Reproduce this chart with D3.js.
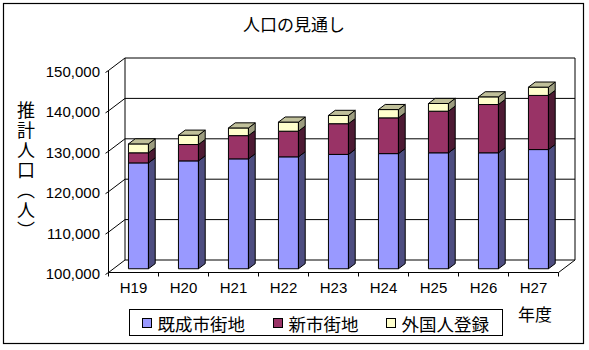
<!DOCTYPE html>
<html>
<head>
<meta charset="utf-8">
<script src="https://cdn.jsdelivr.net/npm/d3@7"></script>
<style>
  body { margin: 0; background: #fff; }
  text { font-family: "Liberation Sans", "Noto Sans CJK JP", sans-serif; fill: #000; }
  .jp { font-family: "Noto Sans CJK JP", sans-serif; }
</style>
</head>
<body>
<svg id="chart" width="589" height="350"></svg>
<script>
// 年度
const years = ["H19", "H20", "H21", "H22", "H23", "H24", "H25", "H26", "H27"];
// 既成市街地・新市街地・外国人登録の人口（人）
const existingArea = [126200, 126700, 127200, 127700, 128300, 128500, 128700, 128700, 129500];
const newArea      = [2500, 4050, 5750, 6350, 7600, 8850, 10300, 11950, 13400];
const foreignReg   = [2200, 2300, 1900, 2250, 2050, 2050, 1900, 1900, 2050];
const seriesNames  = ["既成市街地", "新市街地", "外国人登録"];
const yTicks = [100000, 110000, 120000, 130000, 140000, 150000];

const svg = d3.select("#chart");

// Face colours: front, side, top
const palette = [
  { front: "#9999FF", side: "#4D4D80", top: "#7373BF" },
  { front: "#993366", side: "#4D1A33", top: "#732650" },
  { front: "#FFFFCC", side: "#9C9C7F", top: "#C0C09A" }
];

// Oblique 3D projection: full depth offset of the plot box
const DX = 16.5, DY = -12.5;
const front = { left: 108.5, right: 558.5 };
const y = d3.scaleLinear().domain([100000, 150000]).range([272.5, 70.5]);
const x = d3.scaleBand().domain(years).range([front.left, front.right])
  .paddingInner(0.6).paddingOuter(0.3);
const t0 = 0.3, t1 = 0.71;   // bar front / back depth fractions
const P = (px, py, t) => [px + t * DX, py + t * DY];

// Outer frame
svg.append("rect").attr("x", 3.5).attr("y", 3.5).attr("width", 580).attr("height", 340)
  .attr("fill", "#fff").attr("stroke", "#000").attr("stroke-width", 1.2);

// Title
svg.append("text").attr("class", "jp").attr("x", 294).attr("y", 23)
  .attr("text-anchor", "middle").attr("dominant-baseline", "central")
  .attr("font-size", 17).text("人口の見通し");

// Walls and gridlines
const walls = svg.append("g").attr("stroke", "#000").attr("stroke-width", 1).attr("fill", "none");
yTicks.forEach(v => {
  const [bx, by] = P(front.left, y(v), 1);
  walls.append("line").attr("x1", bx).attr("y1", by).attr("x2", front.right + DX).attr("y2", by);
  walls.append("line").attr("x1", front.left).attr("y1", y(v)).attr("x2", bx).attr("y2", by);
  walls.append("line").attr("x1", front.left - 3).attr("y1", y(v) + 2).attr("x2", front.left).attr("y2", y(v));
});
// back wall verticals
walls.append("line").attr("x1", front.left + DX).attr("y1", y(150000) + DY)
  .attr("x2", front.left + DX).attr("y2", y(100000) + DY);
walls.append("line").attr("x1", front.right + DX).attr("y1", y(150000) + DY)
  .attr("x2", front.right + DX).attr("y2", y(100000) + DY);
// vertical axis (front)
walls.append("line").attr("x1", front.left).attr("y1", y(150000))
  .attr("x2", front.left).attr("y2", y(100000));
// floor
walls.append("line").attr("x1", front.left).attr("y1", y(100000))
  .attr("x2", front.right).attr("y2", y(100000));
walls.append("line").attr("x1", front.right).attr("y1", y(100000))
  .attr("x2", front.right + DX).attr("y2", y(100000) + DY);
// category ticks
d3.range(years.length + 1).forEach(i => {
  const tx = front.left + i * x.step();
  walls.append("line").attr("x1", tx).attr("y1", y(100000)).attr("x2", tx).attr("y2", y(100000) + 4);
});

// Y tick labels
svg.append("g").selectAll("text").data(yTicks).join("text")
  .attr("x", 100).attr("y", d => y(d) + 1)
  .attr("text-anchor", "end").attr("dominant-baseline", "central")
  .attr("font-size", 15).text(d3.format(","));

// Y axis title (vertical)
svg.append("text").attr("class", "jp")
  .attr("x", 26).attr("y", 101)
  .attr("font-size", 18).attr("letter-spacing", 2)
  .style("writing-mode", "vertical-rl")
  .text("推計人口（人）");

// X labels
svg.append("g").selectAll("text").data(years).join("text")
  .attr("x", d => x(d) + x.bandwidth() / 2).attr("y", 287)
  .attr("text-anchor", "middle").attr("dominant-baseline", "central")
  .attr("font-size", 15).text(d => d);
svg.append("text").attr("class", "jp").attr("x", 535).attr("y", 313)
  .attr("text-anchor", "middle").attr("dominant-baseline", "central")
  .attr("font-size", 17).text("年度");

// Stacked 3D bars (axis starts at 100,000, so the lowest segment is cut at the floor)
const rows = years.map((yr, i) => ({ year: yr, s0: existingArea[i], s1: newArea[i], s2: foreignReg[i] }));
const stacked = d3.stack().keys(["s0", "s1", "s2"])(rows);
const floorValue = y.domain()[0];
const bars = svg.append("g").attr("stroke", "#000").attr("stroke-width", 1).attr("stroke-linejoin", "round");
const poly = pts => pts.map(p => p.join(",")).join(" ");

years.forEach((yr, i) => {
  const xl = x(yr), xr = x(yr) + x.bandwidth();
  stacked.forEach((layer, k) => {
    const lo = Math.max(layer[i][0], floorValue), hi = layer[i][1];
    const yl = y(lo), yh = y(hi);
    const c = palette[k];
    // front face
    bars.append("polygon").attr("fill", c.front)
      .attr("points", poly([P(xl, yh, t0), P(xr, yh, t0), P(xr, yl, t0), P(xl, yl, t0)]));
    // side face
    bars.append("polygon").attr("fill", c.side)
      .attr("points", poly([P(xr, yh, t0), P(xr, yh, t1), P(xr, yl, t1), P(xr, yl, t0)]));
    // top face of the stack
    if (k === stacked.length - 1) {
      bars.append("polygon").attr("fill", c.top)
        .attr("points", poly([P(xl, yh, t0), P(xr, yh, t0), P(xr, yh, t1), P(xl, yh, t1)]));
    }
  });
});

// Legend
const lg = svg.append("g");
lg.append("rect").attr("x", 129.5).attr("y", 309.5).attr("width", 373).attr("height", 26)
  .attr("fill", "#fff").attr("stroke", "#000");
const legendX = [142.5, 273.5, 386.5];
seriesNames.forEach((name, k) => {
  lg.append("rect").attr("x", legendX[k]).attr("y", 318.5).attr("width", 9).attr("height", 9)
    .attr("fill", palette[k].front).attr("stroke", "#000");
  lg.append("text").attr("class", "jp").attr("x", legendX[k] + 15).attr("y", 323)
    .attr("dominant-baseline", "central").attr("font-size", 17.5).text(name);
});
</script>
</body>
</html>
